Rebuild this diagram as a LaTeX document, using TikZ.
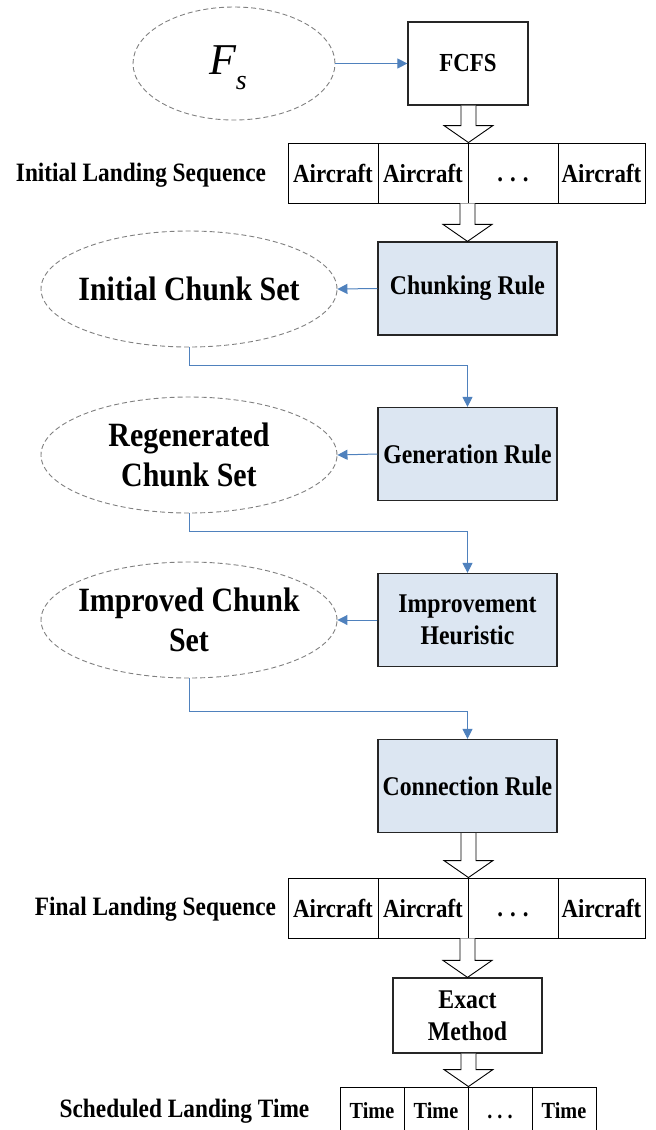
\documentclass[tikz,border=0pt]{standalone}
\usepackage{fontspec}
\setmainfont{Liberation Serif}[FakeStretch=0.88]
\newfontfamily\eqfont{Liberation Serif}
\usetikzlibrary{shapes.geometric,arrows.meta,calc}

\definecolor{linkblue}{RGB}{79,129,189}
\definecolor{rulefill}{RGB}{220,230,242}
\definecolor{setgray}{RGB}{128,128,128}

\tikzstyle{link}=[-{Triangle[length=10pt,width=10pt]}, linkblue, line width=1pt]
\tikzstyle{rulebox}=[rectangle, draw=black!85, line width=1.2pt, fill=rulefill, minimum width=179pt, minimum height=93pt, inner sep=0pt, align=center, font=\fontsize{27}{32}\selectfont\bfseries]
\tikzstyle{plainbox}=[rulebox, fill=white]
\tikzstyle{chunkset}=[ellipse, draw=setgray, dash pattern=on 5pt off 3pt, line width=0.9pt, minimum width=296pt, minimum height=116pt, inner ysep=0pt, inner xsep=-12pt, align=center, font=\fontsize{34}{40}\selectfont\bfseries]
\tikzstyle{cell}=[rectangle, draw, line width=0.9pt, minimum width=90pt, minimum height=60pt, inner sep=0pt, font=\fontsize{26}{30}\selectfont\bfseries]
\tikzstyle{timecell}=[cell, minimum width=64pt, minimum height=48pt, font=\fontsize{23}{27}\selectfont\bfseries]
\tikzstyle{rowlabel}=[anchor=base, inner sep=0pt, font=\fontsize{26.5}{30}\selectfont\bfseries]
\tikzstyle{fat}=[draw=black, line width=0.9pt, fill=white, line join=miter]

% hollow block arrow from #1 down to the point #2
\newcommand{\fatarrow}[2]{%
  \draw[fat] let \p1=(#1), \p2=(#2) in
    (\x2-7.5,\y1) -- (\x2-7.5,\y2+17) -- (\x2-24.5,\y2+17) -- (\x2,\y2)
    -- (\x2+24.5,\y2+17) -- (\x2+7.5,\y2+17) -- (\x2+7.5,\y1);}
% spaced dots sitting on the text baseline
\newcommand{\gapdots}[1]{\vphantom{A}.\hspace{#1}.\hspace{#1}.}

\begin{document}
\begin{tikzpicture}[x=1pt,y=1pt]
	\useasboundingbox (0,0) rectangle (656,-1130);

	% start
	\node[chunkset, minimum width=202pt, minimum height=113pt] (fs) at (234,-63.5) {};
	\node (fslabel) at (228,-68) {\eqfont\fontsize{44}{44}\selectfont\itshape F\raisebox{-15pt}{\fontsize{28}{28}\selectfont s}};
	\node[plainbox, minimum width=120pt, minimum height=83pt, font=\fontsize{26}{30}\selectfont\bfseries] (fcfs) at (468,-63.5) {FCFS};

	% initial sequence
	\node[rowlabel] (inilabel) at (141,-181) {Initial Landing Sequence};
	\node[cell] (ini1) at (333,-173) {Aircraft};
	\node[cell] (ini2) at (423,-173) {Aircraft};
	\node[cell] (ini3) at (513,-173) {\gapdots{7pt}};
	\node[cell, minimum width=87pt] (ini4) at (601.5,-173) {Aircraft};

	% rules and chunk sets
	\node[rulebox] (chunk) at (467.5,-288.5) {Chunking Rule};
	\node[chunkset] (ics) at (189,-289) {Initial Chunk Set};
	\node[rulebox] (gen) at (467.5,-454) {Generation Rule};
	\node[chunkset] (rcs) at (189,-455) {Regenerated\\Chunk Set};
	\node[rulebox] (impr) at (467.5,-620) {Improvement\\Heuristic};
	\node[chunkset] (imcs) at (189,-620) {Improved Chunk\\Set};
	\node[rulebox] (conn) at (467.5,-786) {Connection Rule};

	% final sequence
	\node[rowlabel] (finlabel) at (155.5,-915) {Final Landing Sequence};
	\node[cell] (fin1) at (333,-908) {Aircraft};
	\node[cell] (fin2) at (423,-908) {Aircraft};
	\node[cell] (fin3) at (513,-908) {\gapdots{7pt}};
	\node[cell, minimum width=87pt] (fin4) at (601.5,-908) {Aircraft};

	\node[plainbox, minimum width=149pt, minimum height=75pt] (exact) at (467.5,-1015.5) {Exact\\Method};

	% landing times
	\node[rowlabel] (timelabel) at (184.5,-1117) {Scheduled Landing Time};
	\node[timecell] (t1) at (372,-1111) {Time};
	\node[timecell] (t2) at (436,-1111) {Time};
	\node[timecell] (t3) at (500,-1111) {\gapdots{5pt}};
	\node[timecell] (t4) at (564,-1111) {Time};

	\draw[link] (fs.east) -- (fcfs.west);
	\draw[link] (chunk.west) -- (ics.east);
	\draw[link] (gen.west) -- (rcs.east);
	\draw[link] (impr.west) -- (imcs.east);
	\draw[link] (ics.south) -- ++(0,-18) -| (gen.north);
	\draw[link] (rcs.south) -- ++(0,-18) -| (impr.north);
	\draw[link] (imcs.south) -- ++(0,-33) -| (conn.north);

	\fatarrow{fcfs.south}{ini2.north east}
	\fatarrow{ini2.south east}{chunk.north}
	\fatarrow{conn.south}{fin2.north east}
	\fatarrow{fin2.south east}{exact.north}
	\fatarrow{exact.south}{t2.north east}
\end{tikzpicture}
\end{document}
